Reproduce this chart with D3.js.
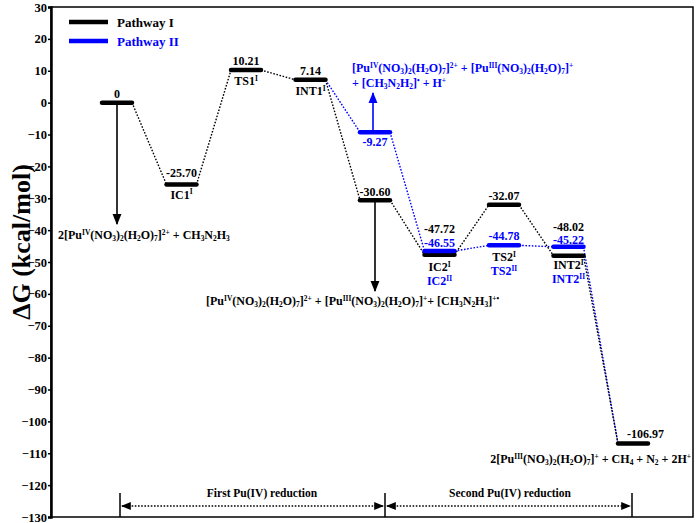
<!DOCTYPE html>
<html><head><meta charset="utf-8">
<script src="https://cdn.jsdelivr.net/npm/d3@7"></script>
<style>body{margin:0;background:#fff}svg{display:block}text{font-family:"Liberation Serif","Times New Roman",serif;font-weight:bold}</style>
</head><body><svg id="c" width="700" height="523"></svg>
<script>
const states = ["R","IC1","TS1","INT1","P1","IC2","TS2","INT2","P"];
const pathI = [0, -25.70, 10.21, 7.14, -30.60, -47.72, -32.07, -48.02, -106.97];
const pathII = [null, null, null, 7.14, -9.27, -46.55, -44.78, -45.22, -106.97];
const yTicks = [30,20,10,0,-10,-20,-30,-40,-50,-60,-70,-80,-90,-100,-110,-120,-130];
const seriesNames = ["Pathway I","Pathway II"];
const colors = ["#000000","#0000ff"];

const svg = d3.select("#c");
const L=51, R=693, T=7, B=517;
const y = d3.scaleLinear().domain([-130,30]).range([B,T]);
const x = d3.scaleLinear().domain([0,8]).range([117,633]);
const hw = 15;

// rich text helper: ^{..} superscript, _{..} subscript
function rich(sel, str, fs){
  const re = /(\^\{[^}]*\}|_\{[^}]*\})/g;
  const parts = str.split(re).filter(s=>s.length);
  let shift = 0;
  parts.forEach(p=>{
    let t = p, dy = 0, size = fs;
    if(p.startsWith("^{")){ t=p.slice(2,-1); dy=-fs*0.34; size=fs*0.62; }
    else if(p.startsWith("_{")){ t=p.slice(2,-1); dy=fs*0.18; size=fs*0.62; }
    sel.append("tspan").attr("dy", dy - shift).attr("font-size", size).text(t);
    shift = dy;
  });
}
function label(str, px, py, fs, color, anchor){
  const t = svg.append("text").attr("x",px).attr("y",py).attr("font-size",fs)
    .attr("fill",color||"#000").attr("text-anchor",anchor||"middle");
  rich(t,str,fs);
  return t;
}

// frame
svg.append("rect").attr("x",L).attr("y",T).attr("width",R-L).attr("height",B-T)
  .attr("fill","none").attr("stroke","#000").attr("stroke-width",1.5);

// y axis
const ax = svg.append("g").attr("transform",`translate(${L},0)`)
  .call(d3.axisLeft(y).tickValues(yTicks).tickSize(3).tickPadding(1).tickFormat(d3.format("d")));
ax.select(".domain").attr("stroke-width",2.5);
ax.selectAll("line").attr("stroke-width",1.5);
ax.selectAll("text").attr("font-size",12.5).attr("font-family","Liberation Serif").attr("font-weight","bold").attr("fill","#000");

svg.append("text").attr("transform",`translate(30,242) rotate(-90)`)
  .attr("text-anchor","middle").attr("font-size",26).text("ΔG (kcal/mol)");

// defs arrows
const defs = svg.append("defs");
[["ak","#000"],["ab","#0000ff"]].forEach(([id,c])=>{
  defs.append("marker").attr("id",id).attr("viewBox","0 0 10 10").attr("refX",9).attr("refY",5)
    .attr("markerWidth",7).attr("markerHeight",7).attr("orient","auto-start-reverse")
    .append("path").attr("d","M0,1 L10,5 L0,9 z").attr("fill",c);
});

// connectors
function connectors(vals, color, idxs){
  for(let k=0;k<idxs.length-1;k++){
    const i=idxs[k], j=idxs[k+1];
    svg.append("line").attr("x1",x(i)+hw).attr("y1",y(vals[i])).attr("x2",x(j)-hw).attr("y2",y(vals[j]))
      .attr("stroke",color).attr("stroke-width",1.4).attr("stroke-dasharray","1.6,1.6");
  }
}
connectors(pathII, colors[1], [3,4,5,6,7,8]);
connectors(pathI, colors[0], d3.range(9));

// bars
pathI.forEach((v,i)=>{
  svg.append("line").attr("x1",x(i)-hw).attr("x2",x(i)+hw).attr("y1",y(v)).attr("y2",y(v))
    .attr("stroke",colors[0]).attr("stroke-width",4.5).attr("stroke-linecap","round");
});
pathII.forEach((v,i)=>{
  if(v===null || i===3 || i===8) return;
  svg.append("line").attr("x1",x(i)-hw).attr("x2",x(i)+hw).attr("y1",y(v)).attr("y2",y(v))
    .attr("stroke",colors[1]).attr("stroke-width",4.5).attr("stroke-linecap","round");
});

const fmt = v => v===0 ? "0" : v.toFixed(2);
const fs = 12;
// value labels pathway I
label(fmt(pathI[0]), x(0), y(pathI[0])-5, fs);
label(fmt(pathI[1]), x(1), y(pathI[1])-8, fs);
label(fmt(pathI[2]), x(2), y(pathI[2])-5, fs);
label(fmt(pathI[3]), x(3), y(pathI[3])-5, fs);
label(fmt(pathI[4]), x(4), y(pathI[4])-4, fs);
label(fmt(pathI[5]), x(5), y(pathI[5])-22, fs);
label(fmt(pathI[6]), x(6), y(pathI[6])-5, fs);
label(fmt(pathI[7]), x(7), y(pathI[7])-25, fs);
label(fmt(pathI[8]), x(8)-6, y(pathI[8])-6, fs, "#000", "start");
// value labels pathway II
label(fmt(pathII[4]), x(4), y(pathII[4])+14, fs, colors[1]);
label(fmt(pathII[5]), x(5), y(pathII[5])-4, fs, colors[1]);
label(fmt(pathII[6]), x(6), y(pathII[6])-5, fs, colors[1]);
label(fmt(pathII[7]), x(7), y(pathII[7])-3, fs, colors[1]);

// state names
label("IC1^{I}", x(1), y(pathI[1])+14, fs);
label("TS1^{I}", x(2), y(pathI[2])+15, fs);
label("INT1^{I}", x(3), y(pathI[3])+15, fs);
label("IC2^{I}", x(5), y(pathI[5])+16, fs);
label("IC2^{II}", x(5), y(pathI[5])+30, fs, colors[1]);
label("TS2^{I}", x(6), y(pathII[6])+16, fs);
label("TS2^{II}", x(6), y(pathII[6])+30, fs, colors[1]);
label("INT2^{I}", x(7), y(pathI[7])+13, fs);
label("INT2^{II}", x(7), y(pathI[7])+27, fs, colors[1]);

// arrows & species
function arrow(px, y1, y2, id, color){
  svg.append("line").attr("x1",px).attr("x2",px).attr("y1",y1).attr("y2",y2)
    .attr("stroke",color).attr("stroke-width",1.6).attr("marker-end",`url(#${id})`);
}
arrow(x(0), y(pathI[0]), 224, "ak", "#000");
label("2[Pu^{IV}(NO_{3})_{2}(H_{2}O)_{7}]^{2+} + CH_{3}N_{2}H_{3}", 58, 239, fs, "#000", "start");
arrow(x(4), y(pathI[4]), 291, "ak", "#000");
label("[Pu^{IV}(NO_{3})_{2}(H_{2}O)_{7}]^{2+} + [Pu^{III}(NO_{3})_{2}(H_{2}O)_{7}]^{+}+ [CH_{3}N_{2}H_{3}]^{+•}", 206, 305, fs, "#000", "start");
arrow(x(4)-2, y(pathII[4]), 93, "ab", colors[1]);
label("[Pu^{IV}(NO_{3})_{2}(H_{2}O)_{7}]^{2+} + [Pu^{III}(NO_{3})_{2}(H_{2}O)_{7}]^{+}", 352, 72, fs, colors[1], "start");
label("+ [CH_{3}N_{2}H_{2}]^{•} + H^{+}", 352, 87, fs, colors[1], "start");
label("2[Pu^{III}(NO_{3})_{2}(H_{2}O)_{7}]^{+} + CH_{4} + N_{2} + 2H^{+}", 691, 463, fs, "#000", "end");

// legend
seriesNames.forEach((n,i)=>{
  svg.append("line").attr("x1",69).attr("x2",108).attr("y1",22+i*19).attr("y2",22+i*19)
    .attr("stroke",colors[i]).attr("stroke-width",4.5);
  svg.append("text").attr("x",117).attr("y",27+i*19).attr("font-size",13).attr("fill",colors[i]).text(n);
});

// bottom brackets
const bx = [120, 385, 632];
bx.forEach(v=>svg.append("line").attr("x1",v).attr("x2",v).attr("y1",493).attr("y2",B).attr("stroke","#000").attr("stroke-width",1.5));
[[bx[0],bx[1]],[bx[1],bx[2]]].forEach(([a,b])=>{
  svg.append("line").attr("x1",a+2).attr("x2",b-2).attr("y1",506).attr("y2",506)
    .attr("stroke","#000").attr("stroke-width",1.4).attr("stroke-dasharray","1.6,1.6")
    .attr("marker-start","url(#ak)").attr("marker-end","url(#ak)");
});
label("First Pu(IV) reduction", 262, 497, 11.5);
label("Second Pu(IV) reduction", 510, 497, 11.5);
</script></body></html>
